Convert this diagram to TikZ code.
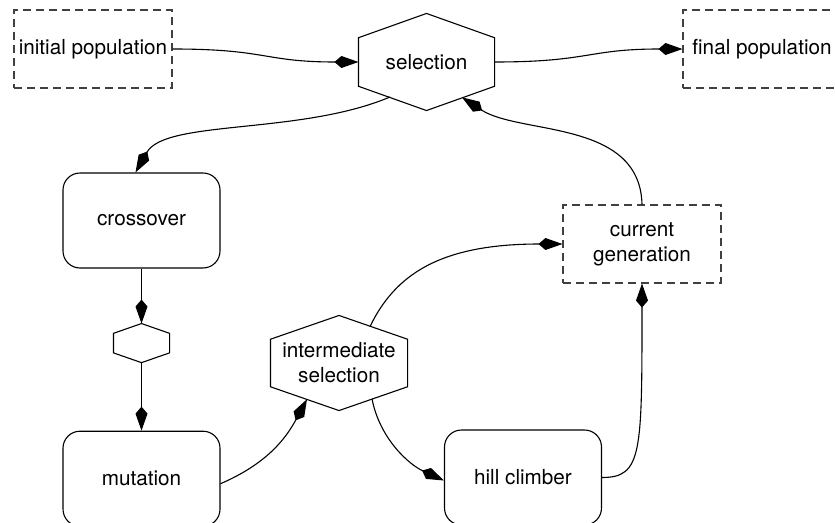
\documentclass[tikz,border=0pt]{standalone}
\usepackage{fontspec}
\setmainfont{TeX Gyre Heros}
\usetikzlibrary{positioning,calc,arrows.meta}
\tikzset{stage/.style={draw,rounded corners=17pt,minimum width=157pt,minimum height=95pt,align=center},
         pool/.style={draw=black!75,dash pattern=on 8pt off 5pt,minimum width=158pt,minimum height=78pt,align=center},
         hexa/.style={inner sep=0pt,align=center,
           append after command={\pgfextra{\let\hexnode\tikzlastnode
             \draw[line width=1.1pt] (\hexnode.north)
               -- ($(\hexnode.north east)!.25!(\hexnode.south east)$)
               -- ($(\hexnode.north east)!.75!(\hexnode.south east)$)
               -- (\hexnode.south)
               -- ($(\hexnode.north west)!.75!(\hexnode.south west)$)
               -- ($(\hexnode.north west)!.25!(\hexnode.south west)$) -- cycle;}}},
         line/.style={-{Kite[length=24pt,width=12pt,inset=7pt]}}
}
\begin{document}
\begin{tikzpicture}[x=1pt,y=-1pt,line width=1.1pt,font=\fontsize{20.7}{25}\selectfont]
  \useasboundingbox (0,0) rectangle (835,522);
  \clip (0,0) rectangle (835,522);
  \node[pool] (init) at (93,49) {initial population};
  \node[hexa,minimum width=135pt,minimum height=96pt] (sel) at (426.5,62) {selection};
  \node[pool] (final) at (762,49) {final population};
  \node[stage] (cross) at (141.5,220.5) {crossover};
  \node[hexa,minimum width=55pt,minimum height=38pt,below=55pt of cross] (join) {};
  \node[stage,below=68pt of join] (mut) {mutation};
  \node[hexa,minimum width=136pt,minimum height=94pt] (inter) at (339,363) {intermediate\\selection};
  \node[pool] (cur) at (642,244) {current\\generation};
  \node[stage] (hill) at (523,477.5) {hill climber};
  \draw[line] (init.east) .. controls +(95,0) and +(-95,0) .. (sel.west);
  \draw[line] (sel.east) .. controls +(95,0) and +(-95,0) .. (final.west);
  \draw[line] ($(sel)+(-36.5,35)$) .. controls +(-90,38) and +(30,-53) .. ($(cross.north)+(-6,0)$);
  \draw[line] (cur.north) .. controls +(-2,-85) and +(58,37.6) .. ($(sel)+(35.5,35.4)$);
  \draw[line] (cross) -- (join);
  \draw[line] (join) -- (mut);
  \draw[line] ($(mut.east)+(0,5)$) .. controls +(45,-19.5) and +(-22,40.8) .. ($(inter)+(-32,36.2)$);
  \draw[line] ($(inter)+(31,-36.5)$) .. controls +(25,-51.5) and +(-123,0) .. (cur.west);
  \draw[line] ($(inter)+(33,35.8)$) .. controls +(8,41) and +(-34,-15.5) .. ($(hill.west)+(0,3)$);
  \draw[line] (hill.east) .. controls +(40,0) and +(0,170) .. (cur.south);
\end{tikzpicture}
\end{document}
